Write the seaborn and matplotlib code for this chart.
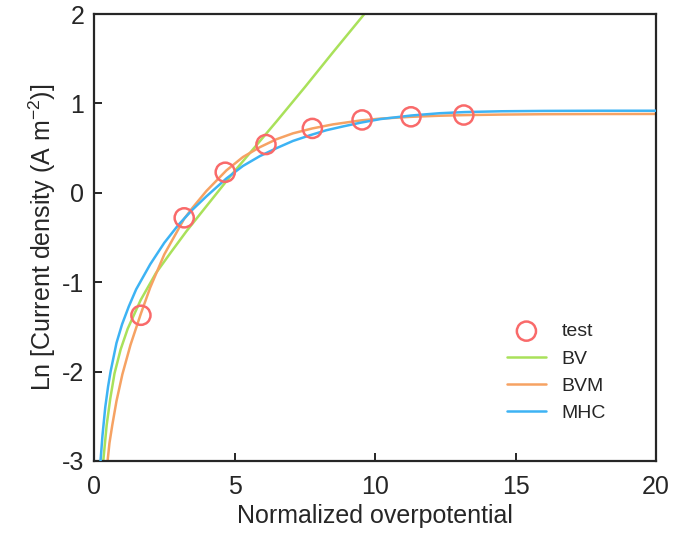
import matplotlib
matplotlib.use("Agg")
import matplotlib.pyplot as plt
import seaborn as sns
import pandas as pd

# ---- data ----
test_x = [1.67, 3.21, 4.67, 6.12, 7.77, 9.54, 11.28, 13.16]
test_y = [-1.37, -0.28, 0.23, 0.54, 0.72, 0.815, 0.85, 0.87]

bv_x = [0.31, 0.33, 0.45, 0.58, 0.73, 0.95, 1.2, 1.66, 2.2, 2.75, 3.29, 4.0, 4.89, 5.48, 6.5, 7.5, 8.5, 9.57, 10.0]
bv_y = [-3.1, -3.0, -2.6, -2.3, -2.02, -1.75, -1.52, -1.2, -0.9, -0.66, -0.43, -0.15, 0.2, 0.42, 0.8, 1.18, 1.57, 1.98, 2.15]

bvm_x = [0.45, 0.55, 0.65, 0.8, 1.01, 1.3, 1.67, 2.0, 2.5, 3.21, 3.5, 4.0, 4.71, 5.3, 5.9, 6.5, 7.08, 7.77,
         8.5, 9.5, 10.2, 11.3, 12.3, 13.2, 14.5, 16.0, 18.0, 20.0]
bvm_y = [-3.1, -2.8, -2.6, -2.33, -2.03, -1.7, -1.35, -1.06, -0.69, -0.29, -0.17, 0.02, 0.25, 0.40, 0.51, 0.60, 0.665, 0.72,
         0.765, 0.81, 0.83, 0.85, 0.862, 0.869, 0.875, 0.879, 0.881, 0.882]

mhc_x = [0.22, 0.3, 0.4, 0.5, 0.59, 0.8, 1.0, 1.24, 1.5, 2.0, 2.5, 3.0, 3.5, 4.0, 4.71, 5.3, 5.9, 6.5, 7.08, 7.7,
         8.27, 8.9, 9.5, 10.2, 11.3, 12.3, 13.2, 14.5, 16.0, 18.0, 20.0]
mhc_y = [-3.05, -2.72, -2.4, -2.17, -2.0, -1.68, -1.47, -1.27, -1.08, -0.8, -0.56, -0.36, -0.19, -0.04, 0.16, 0.30, 0.41, 0.50, 0.58, 0.645,
         0.70, 0.745, 0.785, 0.825, 0.865, 0.89, 0.903, 0.912, 0.916, 0.918, 0.918]

x_ticks = [0, 5, 10, 15, 20]
y_ticks = [-3, -2, -1, 0, 1, 2]

c_test = "#F96A6A"
c_bv = "#A9E15A"
c_bvm = "#F6A263"
c_mhc = "#3DB3F4"

sns.set_theme(style="white")
plt.rcParams["font.family"] = ["Liberation Sans", "DejaVu Sans"]
plt.rcParams["mathtext.fontset"] = "custom"
plt.rcParams["mathtext.rm"] = "Liberation Sans"
plt.rcParams["mathtext.it"] = "Liberation Sans"

fig = plt.figure(figsize=(6.74, 5.33), dpi=100)
ax = fig.add_axes([94 / 674, 1 - 461 / 533, (656 - 94) / 674, (461 - 14) / 533])

df_bv = pd.DataFrame({"x": bv_x, "y": bv_y})
df_bvm = pd.DataFrame({"x": bvm_x, "y": bvm_y})
df_mhc = pd.DataFrame({"x": mhc_x, "y": mhc_y})
df_test = pd.DataFrame({"x": test_x, "y": test_y})

sns.lineplot(data=df_bv, x="x", y="y", ax=ax, color=c_bv, lw=1.8, label="BV", sort=False, zorder=2)
sns.lineplot(data=df_bvm, x="x", y="y", ax=ax, color=c_bvm, lw=1.8, label="BVM", sort=False, zorder=2)
sns.lineplot(data=df_mhc, x="x", y="y", ax=ax, color=c_mhc, lw=1.8, label="MHC", sort=False, zorder=3)
sns.scatterplot(data=df_test, x="x", y="y", ax=ax, marker="o", s=190, facecolor="none",
                edgecolor=c_test, linewidth=1.8, label="test", zorder=4)

ax.set_xlim(0, 20)
ax.set_ylim(-3, 2)
ax.set_xticks(x_ticks)
ax.set_yticks(y_ticks)
ax.set_xticklabels([str(t) for t in x_ticks])
ax.set_yticklabels([str(t) for t in y_ticks])

for s in ax.spines.values():
    s.set_visible(True)
    s.set_color("#262626")
    s.set_linewidth(1.6)

ax.tick_params(axis="both", which="both", direction="in", length=6, width=1.4,
               colors="#262626", labelcolor="#262626", labelsize=18,
               top=False, right=False, bottom=True, left=True)
ax.tick_params(axis="x", pad=10)
ax.tick_params(axis="y", pad=7)

ax.set_xlabel("Normalized overpotential", fontsize=18, color="#262626", labelpad=4)
ax.set_ylabel(r"Ln [Current density (A m$^{-2}$)]", fontsize=18, color="#262626", labelpad=3)

handles, labels = ax.get_legend_handles_labels()
order = [labels.index(n) for n in ["test", "BV", "BVM", "MHC"]]
ax.legend([handles[i] for i in order], [labels[i] for i in order],
          loc="upper left", bbox_to_anchor=(0.721, 0.327), frameon=False,
          fontsize=14, labelspacing=0.5, handlelength=2.0, handletextpad=0.8,
          borderpad=0.4, borderaxespad=0.0)

fig.savefig("out.png", dpi=100)
